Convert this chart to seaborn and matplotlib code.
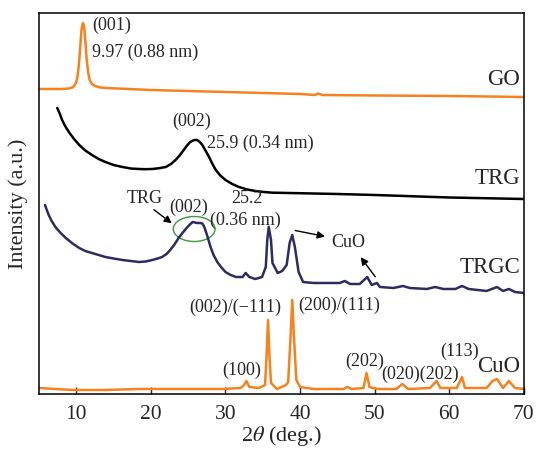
import matplotlib
matplotlib.use("Agg")
import matplotlib.pyplot as plt
from matplotlib.patches import Ellipse
import seaborn as sns

sns.set_theme(style="ticks")
plt.rcParams["font.family"] = ["Liberation Serif", "DejaVu Serif"]
plt.rcParams["mathtext.fontset"] = "stix"

ORANGE = "#F5821F"
NAVY = "#2D2C5E"

# XRD patterns (2theta in deg, intensity in arbitrary units, stacked)
go_x = [5.0, 8.0, 9.0, 9.5, 9.8, 10.0, 10.2, 10.4, 10.55, 10.7, 10.8, 10.9, 11.0, 11.1,
        11.25, 11.4, 11.6, 11.8, 12.1, 12.5, 13.2, 14.0, 20.0, 30.0, 40.0, 42.0, 42.4,
        43.0, 50.0, 60.0, 70.0]
go_y = [305, 305, 305.5, 306.5, 309, 312, 319, 334, 349, 364, 369, 371, 369, 364,
        349, 334, 321, 314, 310, 308, 306.5, 306, 304, 302, 300, 299, 300.5,
        299, 298.5, 298, 297]

trg_x = [7.45, 7.8, 8.1, 8.5, 9.0, 9.7, 10.4, 11.2, 12.1, 13.0, 13.9, 15.0, 16.2, 17.3,
         18.4, 19.3, 20.2, 21.1, 22.0, 22.7, 23.3, 23.8, 24.2, 24.6, 24.9, 25.2, 25.5,
         25.85, 26.2, 26.55, 26.9, 27.35, 27.8, 28.25, 28.7, 29.3, 30.0, 30.9, 31.8,
         32.9, 34.0, 35.1, 36.3, 38.5, 45.0, 50.0, 60.0, 70.0]
trg_y = [286, 280, 274, 268, 262, 255, 249, 243.5, 239, 235, 232, 229, 227, 225.5,
         225, 224.8, 225, 225.8, 227, 230, 234, 238, 242, 246, 249, 251.5, 253,
         254, 254, 252, 249, 243, 237, 230, 224, 218.5, 214, 210, 207,
         204.5, 203, 202, 201.3, 201, 200, 199, 196.5, 195]

trgc_x = [5.8, 6.0, 6.3, 6.7, 7.2, 7.9, 8.6, 9.5, 10.4, 11.2, 12.1, 13.0, 13.9, 15.0,
          16.2, 17.3, 18.4, 19.3, 20.2, 20.9, 21.5, 22.1, 22.6, 23.2, 23.8, 24.4, 24.9,
          25.3, 25.6, 25.9, 26.2, 26.6, 26.9, 27.1, 27.3, 27.6, 28.0, 28.4, 28.9, 29.4,
          30.0, 30.7, 31.4, 32.3, 32.7, 33.2, 34.0, 34.9, 35.4, 35.6, 35.8, 36.1, 36.3,
          37.0, 37.6, 38.2, 38.6, 38.95, 39.3, 39.8, 40.4, 41.8, 45.3, 46.0, 46.7, 48.0,
          49.0, 49.6, 50.3, 50.7, 52.5, 53.8, 54.7, 57.0, 58.1, 59.2, 60.8, 61.7, 62.6,
          65.0, 66.4, 67.2, 68.0, 68.8, 70.0]
trgc_y = [189, 185, 179, 173, 167, 161, 156, 150.5, 146, 143, 141, 139, 137, 135.5,
          134, 133, 132, 132.5, 134, 135.5, 137, 140, 144, 150, 157, 162.5, 167,
          170, 172, 171.5, 171, 171, 170.5, 168, 164, 157, 147, 139, 132, 127,
          122, 119, 117, 117, 121, 117, 115, 117, 127, 154, 167, 154, 131,
          121, 123, 129, 151, 159, 147, 122, 112, 111, 111, 113, 110, 110,
          117, 109, 111, 107, 106, 108, 106, 105, 107, 105, 105, 108, 105,
          103, 107, 103, 105, 102, 101]

cuo_x = [5.0, 9.5, 13.9, 18.4, 25.1, 29.6, 32.0, 32.5, 32.8, 33.2, 34.5, 35.3, 35.5,
         35.7, 35.9, 36.1, 36.9, 38.1, 38.4, 38.7, 38.95, 39.2, 39.5, 40.0, 41.8, 45.8,
         46.3, 46.9, 48.5, 48.9, 49.3, 50.3, 52.9, 53.7, 54.5, 57.4, 58.3, 58.8, 61.0,
         61.7, 62.1, 65.0, 65.8, 66.4, 67.2, 68.0, 68.8, 70.0]
cuo_y = [6, 4, 4, 5, 5, 5, 6, 9, 13, 7, 6, 9, 37,
         74, 37, 11, 5, 9, 12, 54, 94, 54, 14, 7, 5, 5,
         7, 5, 6, 21, 7, 5, 5, 10, 5, 6, 13, 6, 6,
         17, 6, 6, 13, 15, 6, 13, 6, 5]

fig = plt.figure(figsize=(5.37, 4.51), dpi=100)
ax = fig.add_axes([0.0726, 0.1264, 0.903, 0.8448])

lw = 1.8
sns.lineplot(x=go_x, y=go_y, color=ORANGE, lw=lw, ax=ax)
sns.lineplot(x=trg_x, y=trg_y, color="black", lw=lw, ax=ax)
sns.lineplot(x=trgc_x, y=trgc_y, color=NAVY, lw=lw, ax=ax)
sns.lineplot(x=cuo_x, y=cuo_y, color=ORANGE, lw=lw, ax=ax)

ax.set_xlim(5, 70)
ax.set_ylim(0, 381)
ax.set_xticks([10, 20, 30, 40, 50, 60, 70])
ax.set_yticks([])
ax.tick_params(axis="x", direction="in", length=5, width=1, labelsize=15.5, pad=8)
for s in ax.spines.values():
    s.set_color("black")
    s.set_linewidth(1.1)
ax.set_xlabel(r"2$\theta$ (deg.)", fontsize=16, labelpad=0)
ax.set_ylabel("Intensity (a.u.)", fontsize=16, labelpad=8)

fs = 13
# GO
ax.text(12.2, 369, "(001)", fontsize=fs, ha="left", va="center")
ax.text(12.1, 342, "9.97 (0.88 nm)", fontsize=fs, ha="left", va="center")
# TRG
ax.text(25.5, 273, "(002)", fontsize=fs, ha="center", va="center")
ax.text(27.5, 251, "25.9 (0.34 nm)", fontsize=fs, ha="left", va="center")
# TRGC
ax.text(19.2, 195, "TRG", fontsize=fs, ha="center", va="center")
ax.text(25.0, 187, "(002)", fontsize=fs, ha="center", va="center")
ax.text(32.9, 195, "25.2", fontsize=fs, ha="center", va="center")
ax.text(32.7, 174, "(0.36 nm)", fontsize=fs, ha="center", va="center")
ax.text(46.5, 151, "CuO", fontsize=13, ha="center", va="center")
ax.add_patch(Ellipse((25.8, 165), 5.6, 25, fill=False, edgecolor="#3C9A3C", lw=1))
arrow = dict(arrowstyle="-|>", color="black", lw=1, mutation_scale=11)
ax.annotate("", xy=(23.1, 169), xytext=(20.1, 186), arrowprops=arrow)
ax.annotate("", xy=(43.7, 157), xytext=(39.0, 164), arrowprops=arrow)
ax.annotate("", xy=(47.9, 139), xytext=(50.3, 115), arrowprops=arrow)
# CuO
ax.text(31.3, 87, "(002)/(\u2212111)", fontsize=fs, ha="center", va="center")
ax.text(45.2, 89, "(200)/(111)", fontsize=fs, ha="center", va="center")
ax.text(32.2, 24, "(100)", fontsize=fs, ha="center", va="center")
ax.text(48.7, 33, "(202)", fontsize=fs, ha="center", va="center")
ax.text(56.1, 20, "(020)(202)", fontsize=fs, ha="center", va="center")
ax.text(61.4, 43, "(113)", fontsize=fs, ha="center", va="center")

# sample labels on the right
for name, y in [("GO", 314), ("TRG", 215), ("TRGC", 126), ("CuO", 27)]:
    ax.text(69.5, y, name, fontsize=16.5, ha="right", va="center")

fig.savefig("out.png", dpi=100)
